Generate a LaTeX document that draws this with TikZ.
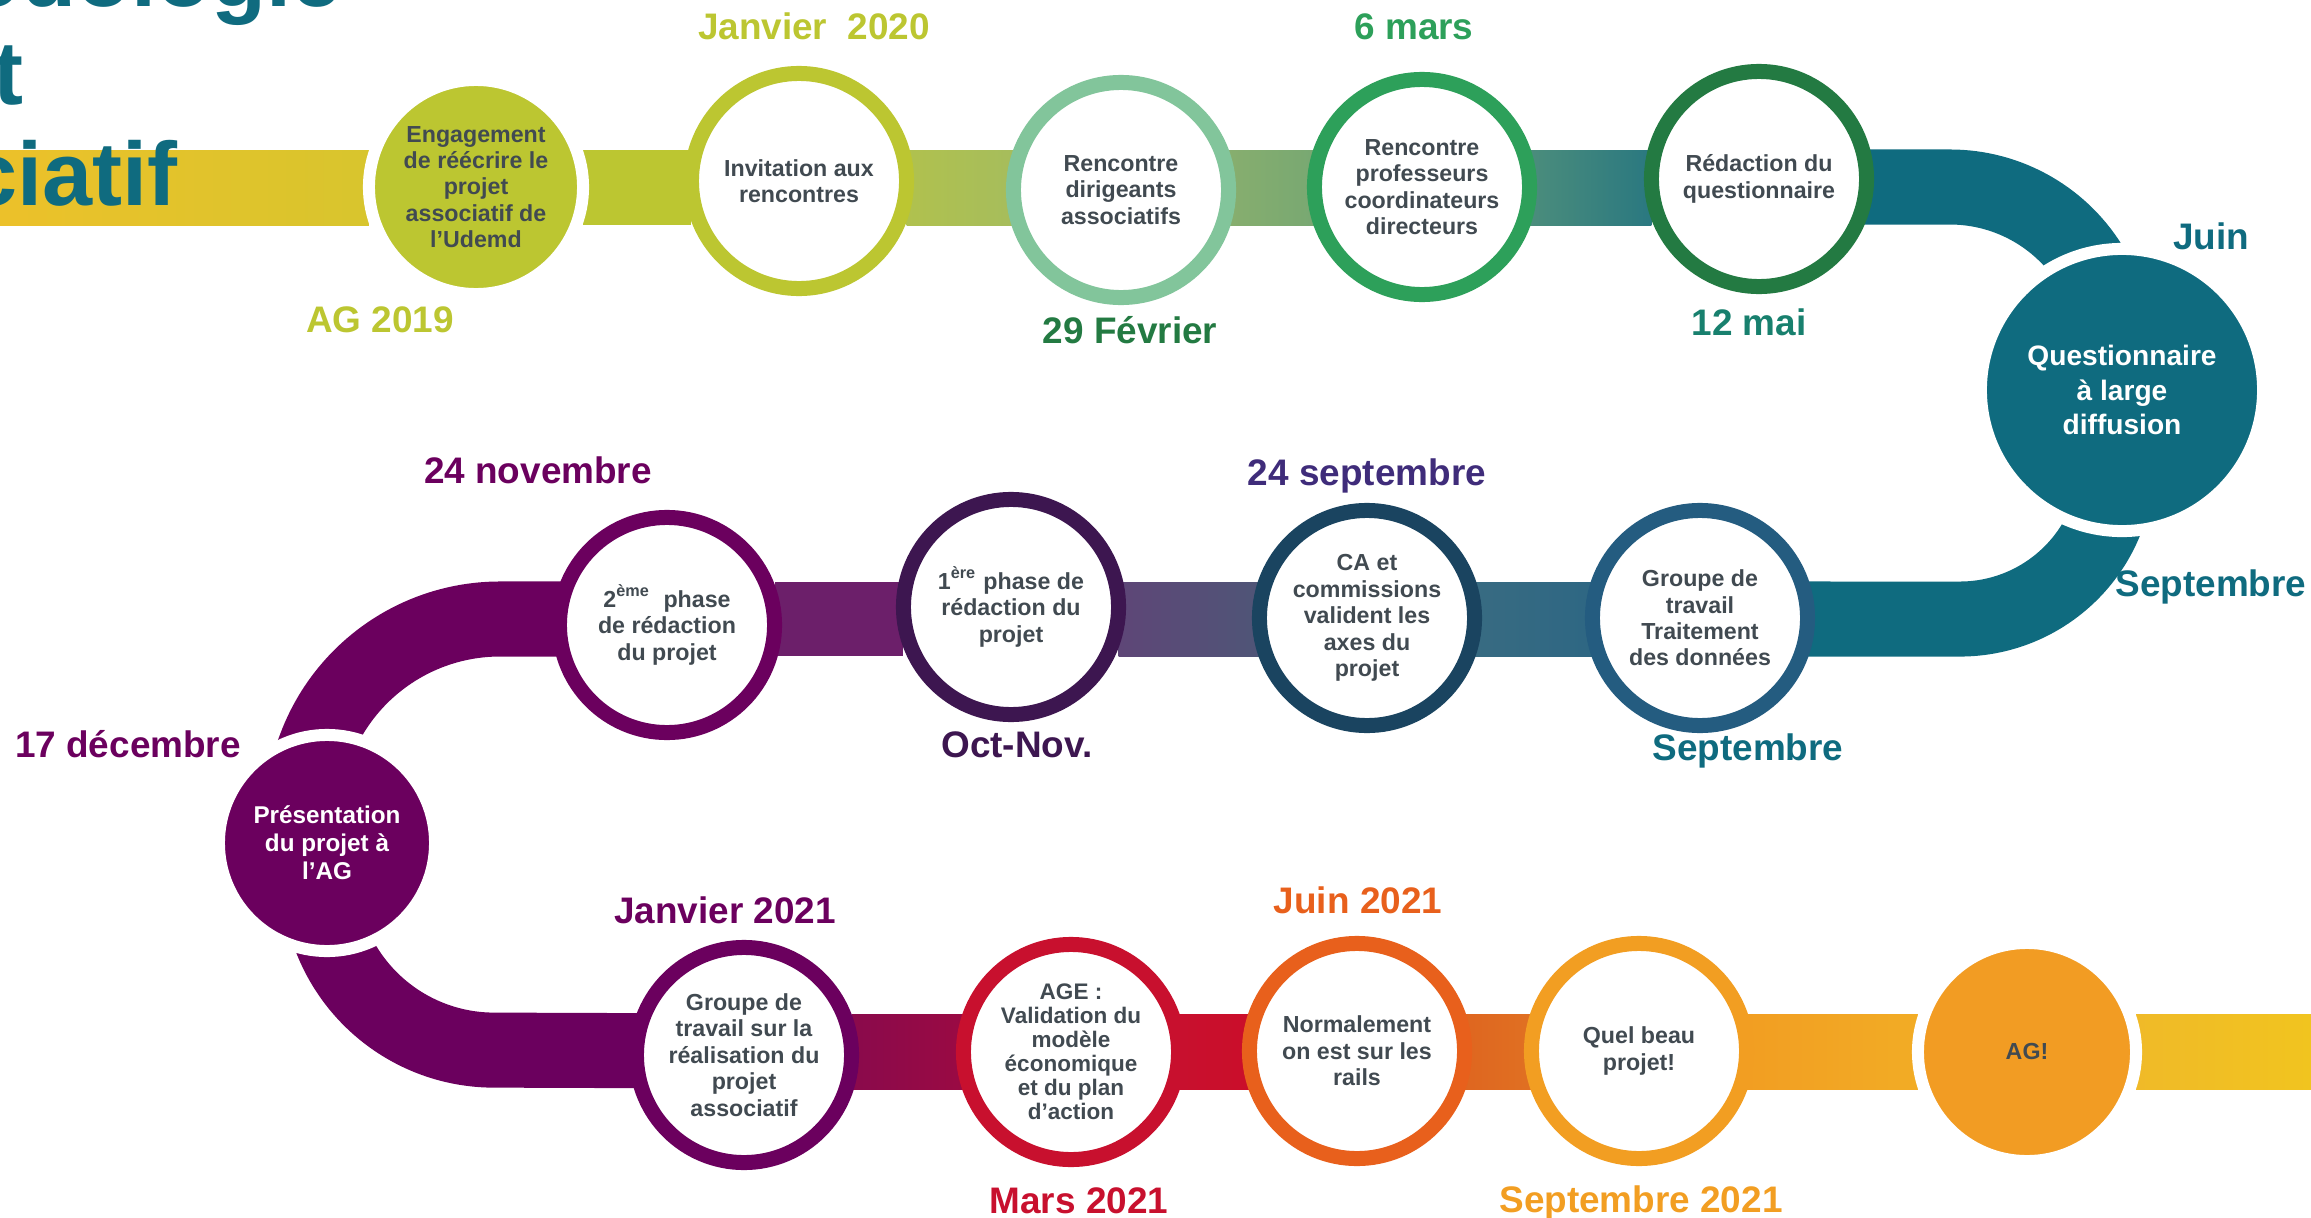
\documentclass[tikz,border=0pt]{standalone}
\usepackage{fontspec}
\setmainfont{Liberation Sans}

\pgfdeclarelayer{bg}
\pgfsetlayers{bg,main}

% couleurs
\definecolor{txt}{HTML}{414A51}
\definecolor{ygreen}{HTML}{BCC631}
\definecolor{lgreen}{HTML}{82C59B}
\definecolor{mgreen}{HTML}{2DA05A}
\definecolor{dgreen}{HTML}{237A42}
\definecolor{mai}{HTML}{18806E}
\definecolor{teal}{HTML}{0F6B7F}
\definecolor{bteal}{HTML}{245C80}
\definecolor{navy}{HTML}{1A4460}
\definecolor{indigo}{HTML}{3F2C7A}
\definecolor{plum}{HTML}{3D1650}
\definecolor{purple}{HTML}{6B005E}
\definecolor{crimson}{HTML}{C8102E}
\definecolor{orange}{HTML}{E8601C}
\definecolor{amber}{HTML}{F29E22}
\definecolor{agorange}{HTML}{F29C23}
% couleurs des bandes
\definecolor{gold}{HTML}{ECC12A}
\definecolor{gold2}{HTML}{D8C52D}
\definecolor{olive}{HTML}{B0C14E}
\definecolor{olive2}{HTML}{A6BD5C}
\definecolor{sage}{HTML}{87AE6E}
\definecolor{sage2}{HTML}{78A872}
\definecolor{sea}{HTML}{4B8D7C}
\definecolor{sea2}{HTML}{2A7880}
\definecolor{mauve}{HTML}{6C1F6A}
\definecolor{lilac}{HTML}{5E4677}
\definecolor{lilac2}{HTML}{4F5577}
\definecolor{steel}{HTML}{386B82}
\definecolor{steel2}{HTML}{2E6783}
\definecolor{wine}{HTML}{8A0A4C}
\definecolor{wine2}{HTML}{9A0A43}
\definecolor{red2}{HTML}{CA0E2A}
\definecolor{rust}{HTML}{DF6620}
\definecolor{rust2}{HTML}{E07022}
\definecolor{amber2}{HTML}{F2AC25}
\definecolor{sun}{HTML}{F0BA28}
\definecolor{sun2}{HTML}{F1C41F}

\newcommand\corps{\fontsize{6.6}{7.5}\selectfont\bfseries}

\tikzset{
  bande/.style={line width=0.75cm, draw=#1},
  etape/.style={circle, draw=#1, line width=0.15cm, fill=white, outer sep=0pt,
    minimum size=2.15cm, inner sep=0pt, align=center, text=txt, font=\corps},
  pastille/.style={circle, fill=#1, draw=white, line width=0.12cm, outer sep=0pt,
    inner sep=0pt, align=center, text=txt, font=\corps},
  datelbl/.style={anchor=base, text=#1, font=\fontsize{10.5}{12}\selectfont\bfseries},
  titre/.style={anchor=base east, inner sep=0pt, text=teal,
    font=\fontsize{25.6}{28}\selectfont\bfseries}
}

\begin{document}
\begin{tikzpicture}[x=0.01cm,y=-0.01cm]
  \useasboundingbox (0,0) rectangle (2311,1218);
  % titre
  \node[titre] (t1) at (342,6) {Méthodologie};
  \node[titre] (t2) at (24,104) {projet};
  % ligne du haut
  \node[pastille=ygreen, minimum size=2.14cm] (c1) at (476,187)
    {Engagement\\de réécrire le\\projet\\associatif de\\l’Udemd};
  \node[etape=ygreen] (c2) at (799,181) {Invitation aux\\rencontres};
  \node[etape=lgreen] (c3) at (1121,190) {Rencontre\\dirigeants\\associatifs};
  \node[etape=mgreen] (c4) at (1422,187) {Rencontre\\professeurs\\coordinateurs\\directeurs};
  \node[etape=dgreen] (c5) at (1759,179) {Rédaction du\\questionnaire};
  \node[pastille=teal, minimum size=2.82cm, text=white,
    font=\fontsize{8}{9.7}\selectfont\bfseries] (c6) at (2122,390)
    {Questionnaire\\à large\\diffusion};
  % ligne du milieu
  \node[etape=bteal] (c7) at (1700,618) {Groupe de\\travail\\Traitement\\des données};
  \node[etape=navy] (c8) at (1367,618) {CA et\\commissions\\valident les\\axes du\\projet};
  \node[etape=plum] (c9) at (1011,607) {1\textsuperscript{ère} phase de\\rédaction du\\projet};
  \node[etape=purple] (c10) at (667,625) {2\textsuperscript{ème}\ \ phase\\de rédaction\\du projet};
  \node[pastille=purple, minimum size=2.16cm, text=white,
    font=\fontsize{6.9}{8}\selectfont\bfseries] (c11) at (327,843)
    {Présentation\\du projet à\\l’AG};
  % ligne du bas
  \node[etape=purple] (c12) at (744,1055)
    {Groupe de\\travail sur la\\réalisation du\\projet\\associatif};
  \node[etape=crimson, font=\fontsize{6.4}{6.8}\selectfont\bfseries] (c13) at (1071,1052)
    {AGE :\\Validation du\\modèle\\économique\\et du plan\\d’action};
  \node[etape=orange] (c14) at (1357,1051) {Normalement\\on est sur les\\rails};
  \node[etape=amber] (c15) at (1639,1051) {Quel beau\\projet!};
  \node[pastille=agorange, minimum size=2.18cm] (c16) at (2027,1052) {AG!};
  % bandes
  \begin{pgfonlayer}{bg}
    \coordinate (h1) at (0,150);  \coordinate (l1) at (0,225);
    \coordinate (h2) at (0,582);  \coordinate (l2) at (0,656);
    \coordinate (h3) at (0,1014); \coordinate (l3) at (0,1089);
    \coordinate (k1) at (1950,187);
    \coordinate (k2a) at (2111.6,502.6);
    \coordinate (k2) at (1960,619);
    \coordinate (k3) at (500,619);
    \coordinate (k4a) at (329.6,934.9);
    \coordinate (k4) at (494,1051);
    \coordinate (e3) at (2311,1089);
    \shade[left color=gold, right color=gold2] (h1) rectangle (c1.west |- l1);
    \fill[ygreen] (c1.east |- h1) rectangle (c2.west |- l1);
    \shade[left color=olive, right color=olive2] (c2.east |- h1) rectangle (c3.west |- l1);
    \shade[left color=sage, right color=sage2] (c3.east |- h1) rectangle (c4.west |- l1);
    \shade[left color=sea, right color=sea2] (c4.east |- h1) rectangle (c5.west |- l1);
    \draw[bande=teal] (c5.center |- k1) -- (k1)
      arc[start angle=90, end angle=30, radius=1.65cm] -- (c6.center);
    \draw[bande=teal] (c6.center) -- (k2a)
      arc[start angle=-15, end angle=-90, radius=1.57cm] -- (c7.center |- k2);
    \shade[left color=steel, right color=steel2] (c8.east |- h2) rectangle (c7.west |- l2);
    \shade[left color=lilac, right color=lilac2] (c9.east |- h2) rectangle (c8.west |- l2);
    \fill[mauve] (c10.east |- h2) rectangle (c9.west |- l2);
    \draw[bande=purple] (c10.center |- k3) -- (k3)
      arc[start angle=90, end angle=160, radius=1.97cm] -- (c11.center);
    \draw[bande=purple] (c11.center) -- (k4a)
      arc[start angle=200, end angle=270, radius=1.75cm] -- (c12.center |- k4);
    \shade[left color=wine, right color=wine2] (c12.east |- h3) rectangle (c13.west |- l3);
    \shade[left color=crimson, right color=red2] (c13.east |- h3) rectangle (c14.west |- l3);
    \shade[left color=rust, right color=rust2] (c14.east |- h3) rectangle (c15.west |- l3);
    \shade[left color=amber, right color=amber2] (c15.east |- h3) rectangle (c16.west |- l3);
    \shade[left color=sun, right color=sun2] (c16.east |- h3) rectangle (e3);
  \end{pgfonlayer}
  \node[titre] (t3) at (178,205) {associatif};
  % dates
  \node[datelbl=ygreen] (d1) at (814,40) {Janvier\ \ 2020};
  \node[datelbl=ygreen] (d2) at (380,332) {AG 2019};
  \node[datelbl=dgreen] (d3) at (1130,343) {29 Février};
  \node[datelbl=mgreen] (d4) at (1414,40) {6 mars};
  \node[datelbl=mai] (d5) at (1749,335) {12 mai};
  \node[datelbl=teal] (d6) at (2211,249) {Juin};
  \node[datelbl=teal] (d7) at (2211,596) {Septembre};
  \node[datelbl=teal] (d8) at (1748,760) {Septembre};
  \node[datelbl=indigo] (d9) at (1367,485) {24 septembre};
  \node[datelbl=plum] (d10) at (1017,757) {Oct-Nov.};
  \node[datelbl=purple] (d11) at (538,483) {24 novembre};
  \node[datelbl=purple] (d12) at (128,757) {17 décembre};
  \node[datelbl=purple] (d13) at (725,923) {Janvier 2021};
  \node[datelbl=crimson] (d14) at (1079,1213) {Mars 2021};
  \node[datelbl=orange] (d15) at (1358,913) {Juin 2021};
  \node[datelbl=amber] (d16) at (1641,1212) {Septembre 2021};
\end{tikzpicture}
\end{document}
